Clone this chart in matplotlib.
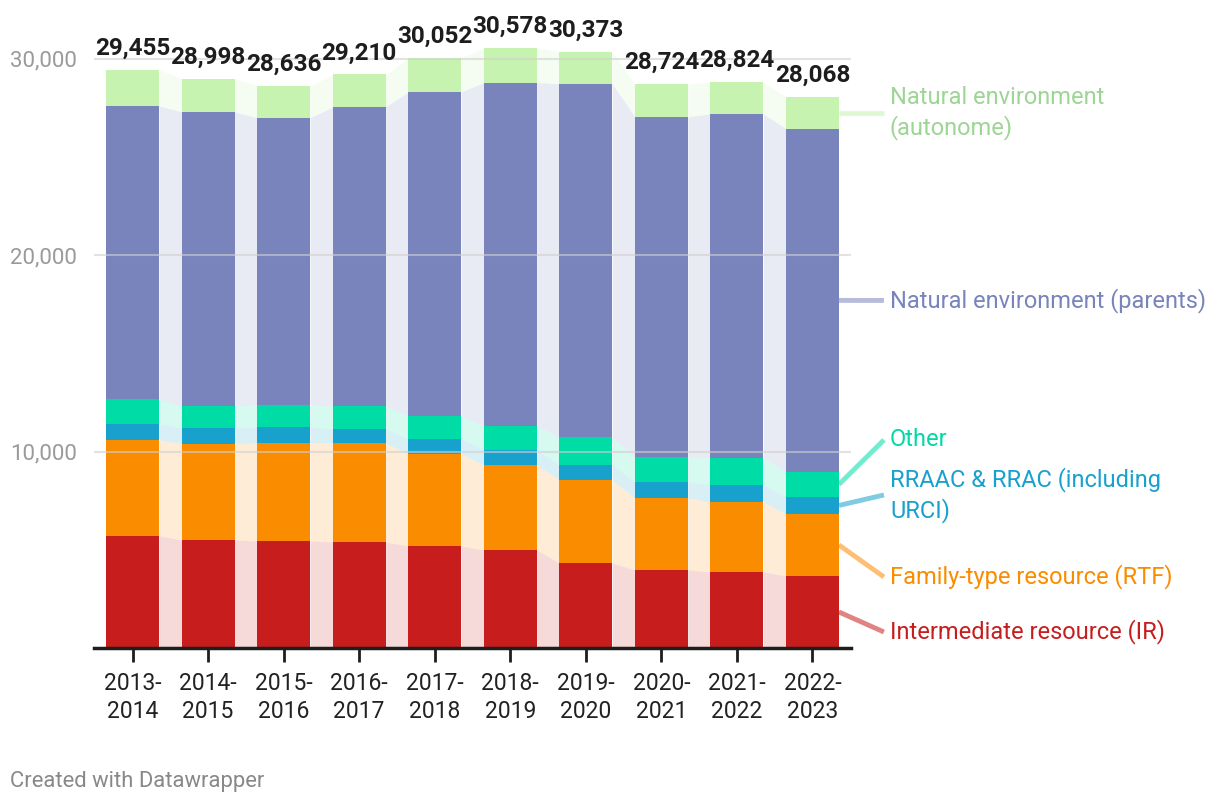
import numpy as np
import matplotlib
matplotlib.use("Agg")
import matplotlib.pyplot as plt

plt.rcParams['font.family'] = ['Roboto', 'DejaVu Sans']

years = ["2013-\n2014", "2014-\n2015", "2015-\n2016", "2016-\n2017", "2017-\n2018",
         "2018-\n2019", "2019-\n2020", "2020-\n2021", "2021-\n2022", "2022-\n2023"]

# stacked from bottom to top
ir = [5721, 5502, 5451, 5400, 5196, 4992, 4330, 3973, 3871, 3668]
rtf = [4875, 4905, 4992, 5043, 4686, 4330, 4228, 3668, 3566, 3158]
rraac = [815, 800, 815, 713, 764, 764, 764, 815, 866, 866]
other = [1273, 1120, 1120, 1171, 1172, 1223, 1426, 1274, 1376, 1273]
parents = [14926, 14977, 14620, 15232, 16505, 17488, 17982, 17319, 17523, 17473]
totals = [29455, 28998, 28636, 29210, 30052, 30578, 30373, 28724, 28824, 28068]
autonome = [t - a - b - c - d - e for t, a, b, c, d, e in
            zip(totals, ir, rtf, rraac, other, parents)]

series = [ir, rtf, rraac, other, parents, autonome]
names = ["Intermediate resource (IR)", "Family-type resource (RTF)",
         "RRAAC & RRAC (including\nURCI)", "Other",
         "Natural environment (parents)", "Natural environment\n(autonome)"]
colors = ["#c71e1d", "#fa8c00", "#18a1cd", "#00dca6", "#7884bb", "#c6f4b0"]
label_colors = ["#c71e1d", "#fa8c00", "#18a1cd", "#00d8a6", "#7884bb", "#9dd594"]
# where the labels sit on the right (value units)
label_y = [815, 3617, 7794, 10596, 17700, 27253]

fig = plt.figure(figsize=(12.2, 8.06), dpi=100)
ax = fig.add_axes([94 / 1220, 158 / 806, 757 / 1220, 648 / 806])

x = np.arange(len(years))
w = 0.70
bottom = np.zeros(len(years))
mids = []
for vals, col in zip(series, colors):
    v = np.array(vals, dtype=float)
    top = bottom + v
    ax.bar(x, v, w, bottom=bottom, color=col, zorder=2)
    # pale connectors between bars
    for i in range(len(x) - 1):
        xs = [x[i] + w / 2, x[i + 1] - w / 2]
        ax.fill_between(xs, [bottom[i], bottom[i + 1]], [top[i], top[i + 1]],
                        color=col, alpha=0.16, lw=0, zorder=1)
    mids.append((bottom[-1] + top[-1]) / 2)
    bottom = top

for xi, t in zip(x, totals):
    ax.annotate(f"{t:,}", (xi, t), xytext=(0, 7), textcoords="offset points",
                ha="center", va="bottom", fontsize=17.5, fontweight="bold",
                color="#1d1d1d", zorder=5)

# leader lines + labels
x0 = x[-1] + w / 2
x1 = x0 + 45 / 75.5
for name, lc, col, m, ly in zip(names, label_colors, colors, mids, label_y):
    ax.plot([x0, x1], [m, ly], color=col, alpha=0.55, lw=3.5,
            solid_capstyle="butt", clip_on=False, zorder=3)
    ax.text(x1 + 6 / 75.5, ly, name, color=lc, fontsize=17, va="center",
            ha="left", linespacing=1.3, clip_on=False)

ax.set_xlim(-0.51, 9.51)
ax.set_ylim(0, 33000)
ax.set_yticks([10000, 20000, 30000])
ax.set_yticklabels(["10,000", "20,000", "30,000"])
ax.yaxis.grid(True, color="#d0d0d0", alpha=0.6, lw=1.5, zorder=4)
ax.set_axisbelow(False)
ax.tick_params(axis="y", length=0, pad=12, labelsize=16, labelcolor="#9a9a9a")
ax.set_xticks(x)
ax.set_xticklabels(years, fontsize=16.5, color="#222222", linespacing=1.3)
ax.tick_params(axis="x", length=10, width=2, color="#1d1d1d", pad=7)
for s in ["top", "right", "left"]:
    ax.spines[s].set_visible(False)
ax.spines["bottom"].set_color("#1d1d1d")
ax.spines["bottom"].set_linewidth(2.5)
ax.spines["bottom"].set_zorder(6)

fig.text(10 / 1220, 1 - 782 / 806, "Created with Datawrapper", fontsize=15.8,
         color="#888888", va="center", ha="left")

fig.savefig("out.png", dpi=100)
